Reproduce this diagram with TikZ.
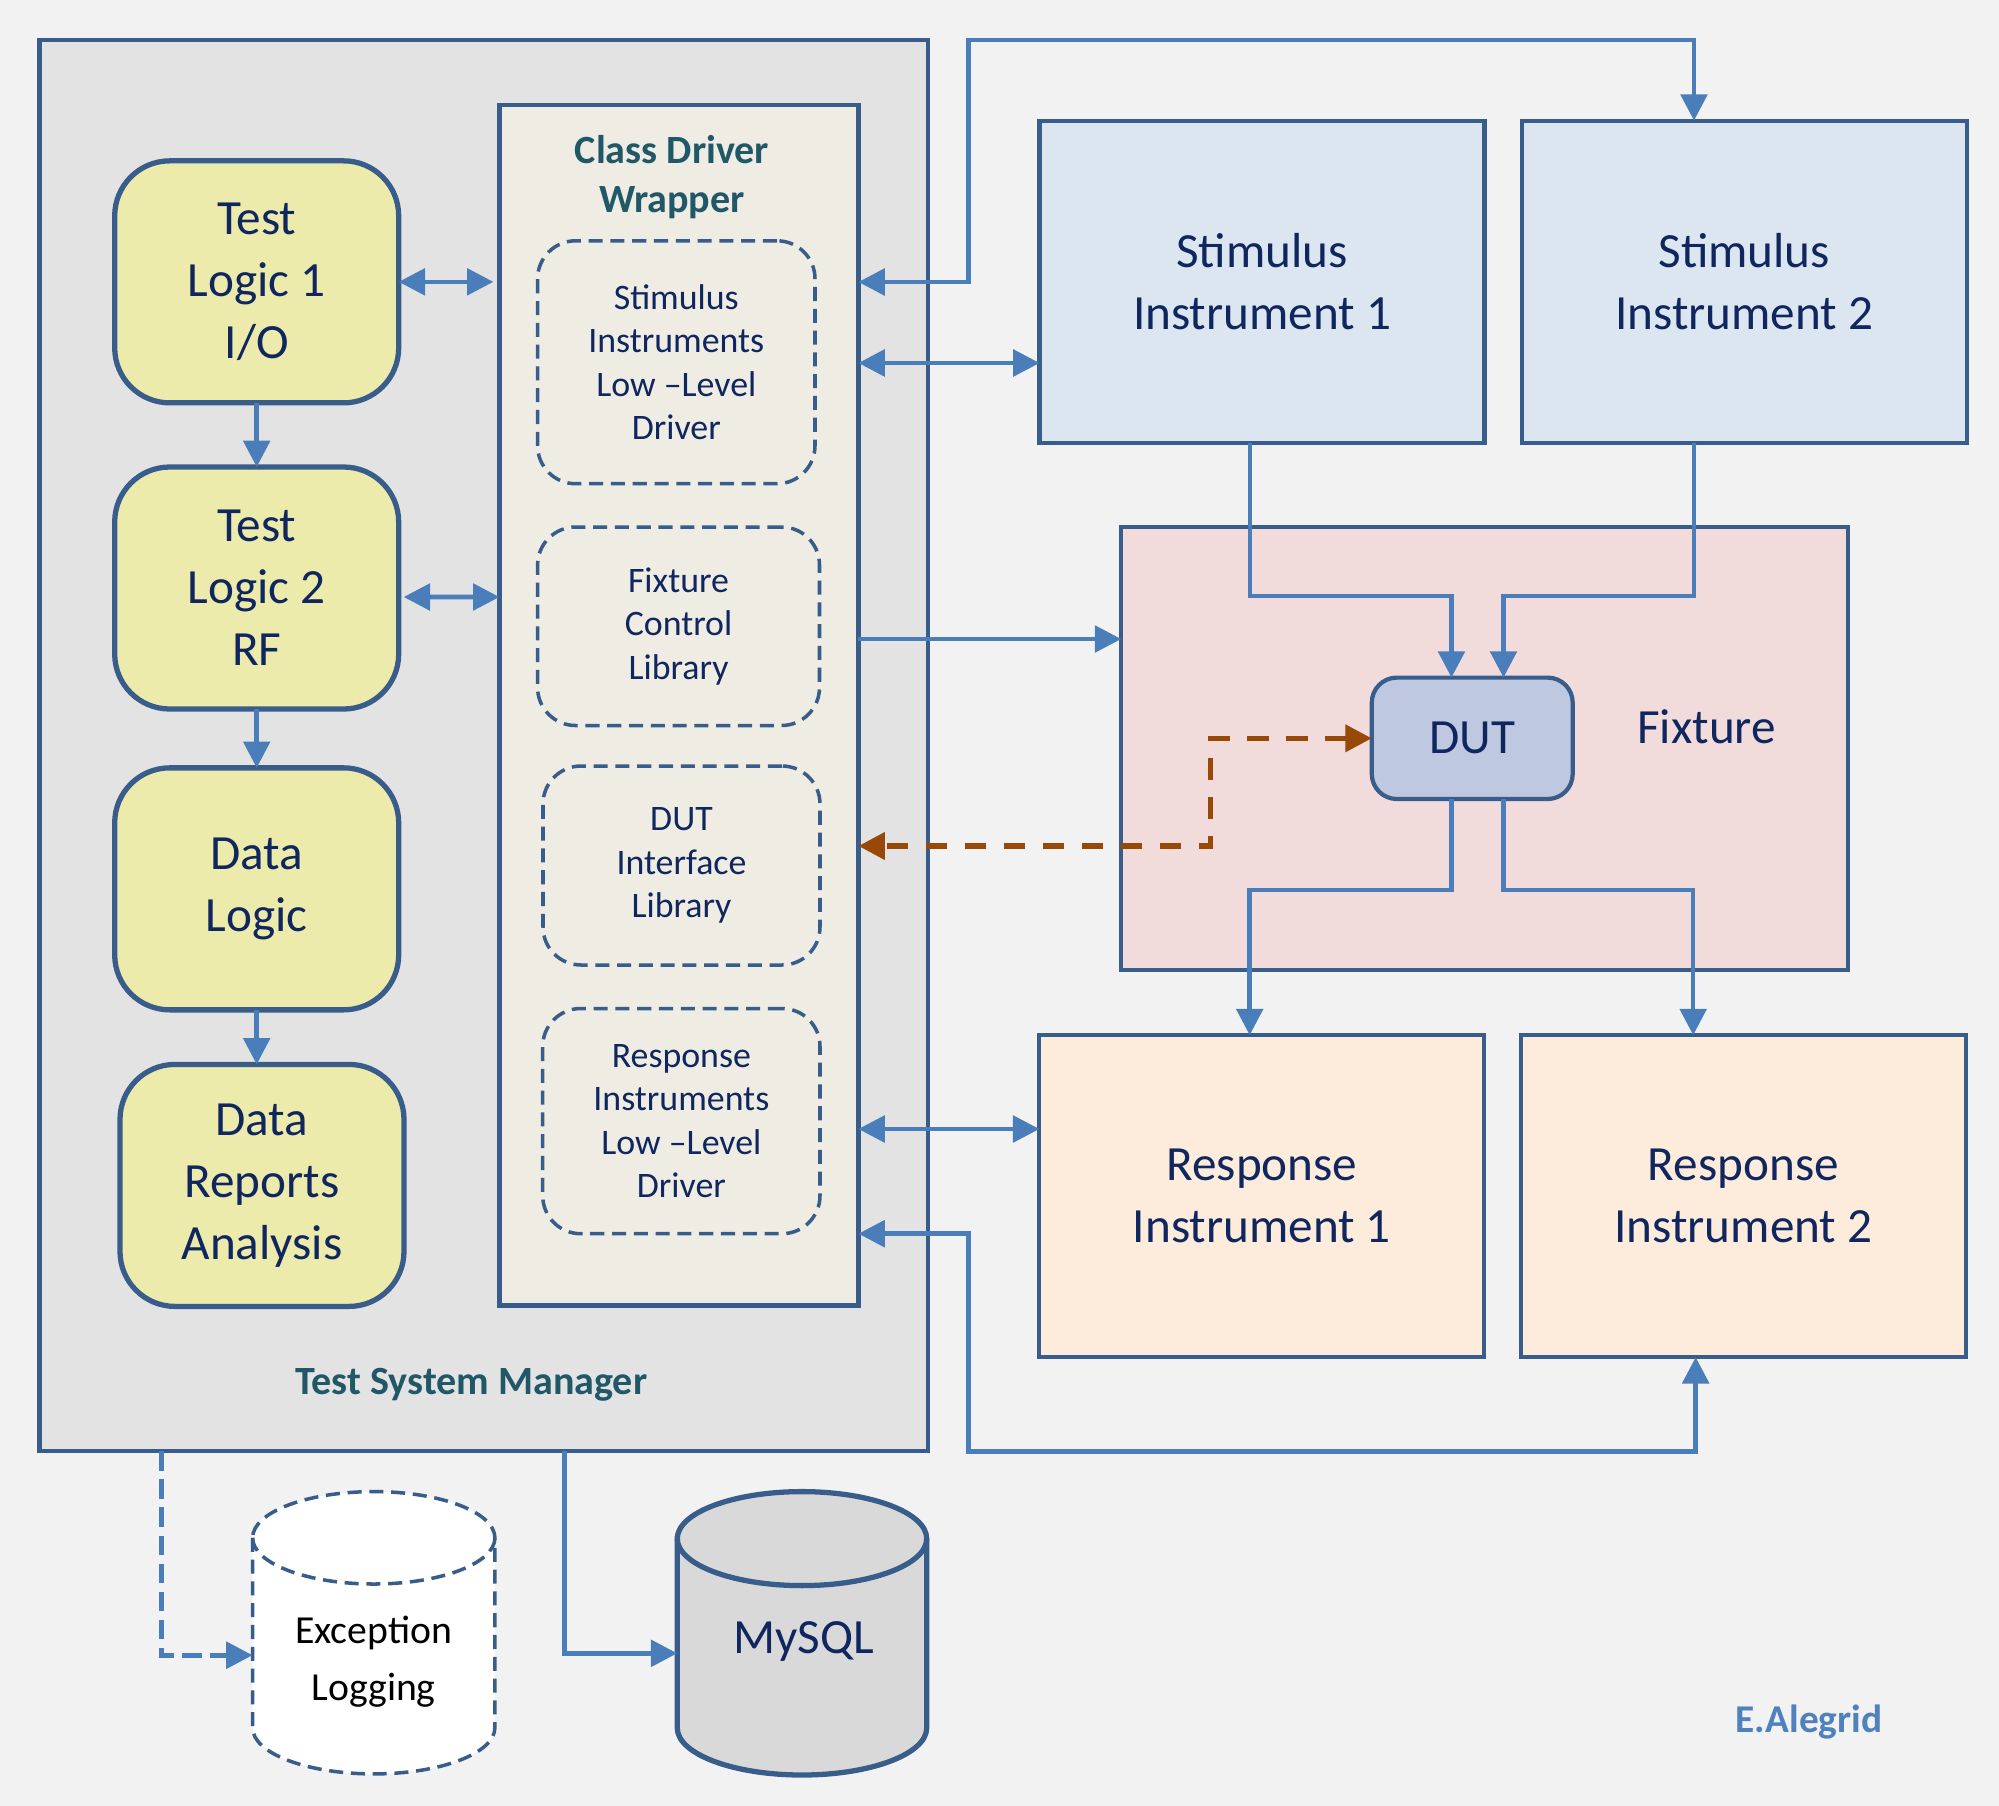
\documentclass[tikz,border=0pt]{standalone}
\usepackage{fontspec}
\setmainfont{Carlito}
\usetikzlibrary{arrows.meta}
\definecolor{bgcol}{HTML}{F2F2F2}
\definecolor{frame}{HTML}{385D8A}
\definecolor{tsmfill}{HTML}{E3E3E3}
\definecolor{wrapfill}{HTML}{EEECE3}
\definecolor{logicfill}{HTML}{ECEBAB}
\definecolor{stimfill}{HTML}{DCE6F1}
\definecolor{fixfill}{HTML}{F2DCDB}
\definecolor{respfill}{HTML}{FDEBDB}
\definecolor{dutfill}{HTML}{BFC8E1}
\definecolor{dbfill}{HTML}{D9D9D9}
\definecolor{linkcol}{HTML}{4A7EBB}
\definecolor{rust}{HTML}{984807}
\definecolor{navy}{HTML}{10265E}
\definecolor{teal}{HTML}{215868}
\definecolor{credit}{HTML}{4F81BD}
\begin{document}
\begin{tikzpicture}[auto,
    box/.style ={rectangle, draw=frame, line width=1.2pt, inner sep=0pt, outer sep=0pt, align=center, text=navy},
    bigtext/.style ={font=\fontsize{14}{17.6}\selectfont},
    logicbox/.style ={box, bigtext, rounded corners=0.55cm, fill=logicfill, line width=1.5pt, minimum width=2.84cm, minimum height=2.42cm},
    libbox/.style ={box, rounded corners=0.38cm, line width=1pt, dash pattern=on 4pt off 2.2pt, font=\fontsize{10.2}{12.4}\selectfont},
    instr/.style ={box, bigtext, minimum width=4.45cm, minimum height=3.22cm},
    heading/.style ={align=center, inner sep=0pt, text=teal, font=\fontsize{11.4}{13.9}\selectfont\bfseries},
    region/.style ={rectangle, inner sep=0pt, outer sep=0pt},
    link/.style ={draw=linkcol, line width=1.3pt, -{Triangle[length=7.5pt,width=7.5pt]}},
    duplex/.style ={link, {Triangle[length=7.5pt,width=7.5pt]}-{Triangle[length=7.5pt,width=7.5pt]}},
    dutlink/.style ={draw=rust, line width=1.6pt, dash pattern=on 6.2pt off 4.9pt, {Triangle[length=7.5pt,width=7.5pt]}-{Triangle[length=7.5pt,width=7.5pt]}}]
   \fill[bgcol] (0,0) rectangle (19.99,-18.06);
   \node[box, fill=tsmfill, minimum width=8.885cm, minimum height=14.114cm] (tsm) at (4.8375,-7.455) {};
   \node[box, fill=wrapfill, minimum width=3.59cm, minimum height=12.009cm] (wrapper) at (6.789,-7.0505) {};
   \node[heading] (wraplabel) at (6.72,-1.775) {Class Driver\\Wrapper};
   \node[heading] (tsmlabel) at (4.713,-13.845) {Test System Manager};
   \node[logicbox] (tl1) at (2.567,-2.8185) {Test\\Logic 1\\I/O};
   \node[logicbox] (tl2) at (2.567,-5.88) {Test\\Logic 2\\RF};
   \node[logicbox] (dl) at (2.567,-8.8885) {Data\\Logic};
   \node[logicbox] (dra) at (2.62,-11.854) {Data\\Reports\\Analysis};
   \node[libbox, minimum width=2.774cm, minimum height=2.429cm] (sild) at (6.763,-3.6225) {Stimulus\\Instruments\\Low –Level\\Driver};
   \node[libbox, minimum width=2.819cm, minimum height=1.985cm] (fcl) at (6.7855,-6.2625) {Fixture\\Control\\Library};
   \node[libbox, minimum width=2.77cm, minimum height=1.99cm] (dil) at (6.815,-8.655) {DUT\\Interface\\Library};
   \node[libbox, minimum width=2.773cm, minimum height=2.252cm] (rild) at (6.8135,-11.211) {Response\\Instruments\\Low –Level\\Driver};
   \node[instr, fill=stimfill] (stim1) at (12.621,-2.8165) {Stimulus\\Instrument 1};
   \node[instr, fill=stimfill] (stim2) at (17.4425,-2.8165) {Stimulus\\Instrument 2};
   \node[box, fill=fixfill, minimum width=7.27cm, minimum height=4.43cm] (fixture) at (14.847,-7.485) {};
   \node[bigtext, text=navy, inner sep=0pt] (fixlabel) at (17.066,-7.27) {Fixture};
   \node[box, bigtext, fill=dutfill, rounded corners=0.25cm, minimum width=2.009cm, minimum height=1.214cm] (dut) at (14.7225,-7.383) {DUT};
   \node[instr, fill=respfill] (resp1) at (12.6185,-11.9615) {Response\\Instrument 1};
   \node[instr, fill=respfill] (resp2) at (17.434,-11.9615) {Response\\Instrument 2};
   \node[region, minimum width=2.423cm, minimum height=2.823cm] (exc) at (3.7375,-16.3275) {};
   \node[region, minimum width=2.494cm, minimum height=2.834cm] (mysql) at (8.02,-16.333) {};
   \draw[draw=frame, fill=white, line width=1pt, dash pattern=on 4pt off 2.2pt] ([yshift=-4.62mm]exc.north west) -- ([yshift=4.62mm]exc.south west) arc[start angle=180, end angle=360, x radius=12.115mm, y radius=4.62mm] -- ([yshift=-4.62mm]exc.north east) arc[start angle=0, end angle=180, x radius=12.115mm, y radius=4.62mm] -- cycle;
   \draw[draw=frame, line width=1pt, dash pattern=on 4pt off 2.2pt] ([yshift=-4.62mm]exc.north west) arc[start angle=180, end angle=360, x radius=12.115mm, y radius=4.62mm];
   \draw[draw=frame, fill=dbfill, line width=1.5pt] ([yshift=-4.7mm]mysql.north west) -- ([yshift=4.7mm]mysql.south west) arc[start angle=180, end angle=360, x radius=12.47mm, y radius=4.7mm] -- ([yshift=-4.7mm]mysql.north east) arc[start angle=0, end angle=180, x radius=12.47mm, y radius=4.7mm] -- cycle;
   \draw[draw=frame, line width=1.5pt] ([yshift=-4.7mm]mysql.north west) arc[start angle=180, end angle=360, x radius=12.47mm, y radius=4.7mm];
   \node[align=center, inner sep=0pt, font=\fontsize{11.3}{16.2}\selectfont] (exclabel) at (3.737,-16.62) {Exception\\Logging};
   \node[bigtext, text=navy, inner sep=0pt] (mysqllabel) at (8.036,-16.41) {MySQL};
   \node[inner sep=0pt, text=credit, font=\fontsize{11.2}{13}\selectfont\bfseries] (author) at (18.09,-17.22) {E.Alegrid};
   \draw[duplex] (tl1.east) to ([xshift=-0.6mm]tl1.east -| wrapper.west);
   \draw[duplex] ([xshift=0.5mm,yshift=-0.9mm]tl2.east) to (wrapper.west |- 0,-5.97);
   \draw[link] (tl1.south) to (tl2.north);
   \draw[link] (tl2.south) to (dl.north);
   \draw[link] (dl.south) to (dl.south |- dra.north);
   \draw[duplex] (wrapper.east |- 0,-2.82) -| (9.687,-0.398) -| (stim2.north -| 16.94,0);
   \draw[duplex] (wrapper.east |- 0,-3.63) to (stim1.west |- 0,-3.63);
   \draw[link] (wrapper.east |- 0,-6.39) to (fixture.west |- 0,-6.39);
   \draw[link] (stim1.south -| 12.50,0) -- (12.50,-5.96) -| (dut.north -| 14.515,0);
   \draw[link] (stim2.south -| 16.94,0) -- (16.94,-5.96) -| (dut.north -| 15.035,0);
   \draw[link] (dut.south -| 14.515,0) -- (14.515,-8.898) -| (resp1.north -| 12.497,0);
   \draw[link] (dut.south -| 15.035,0) -- (15.035,-8.898) -| (resp2.north -| 16.932,0);
   \draw[dutlink] (dut.west) -| (12.105,-8.46) -- (wrapper.east |- 0,-8.46);
   \draw[duplex] (wrapper.east |- 0,-11.29) to (resp1.west |- 0,-11.29);
   \draw[duplex] (wrapper.east |- 0,-12.337) -| (9.687,-14.512) -| (resp2.south -| 16.957,0);
   \draw[link, dash pattern=on 5.5pt off 2.5pt] (tsm.south -| 1.614,0) |- (exc.west |- 0,-16.552);
   \draw[link] (tsm.south -| 5.644,0) |- (mysql.west |- 0,-16.533);
 \end{tikzpicture}
\end{document}
